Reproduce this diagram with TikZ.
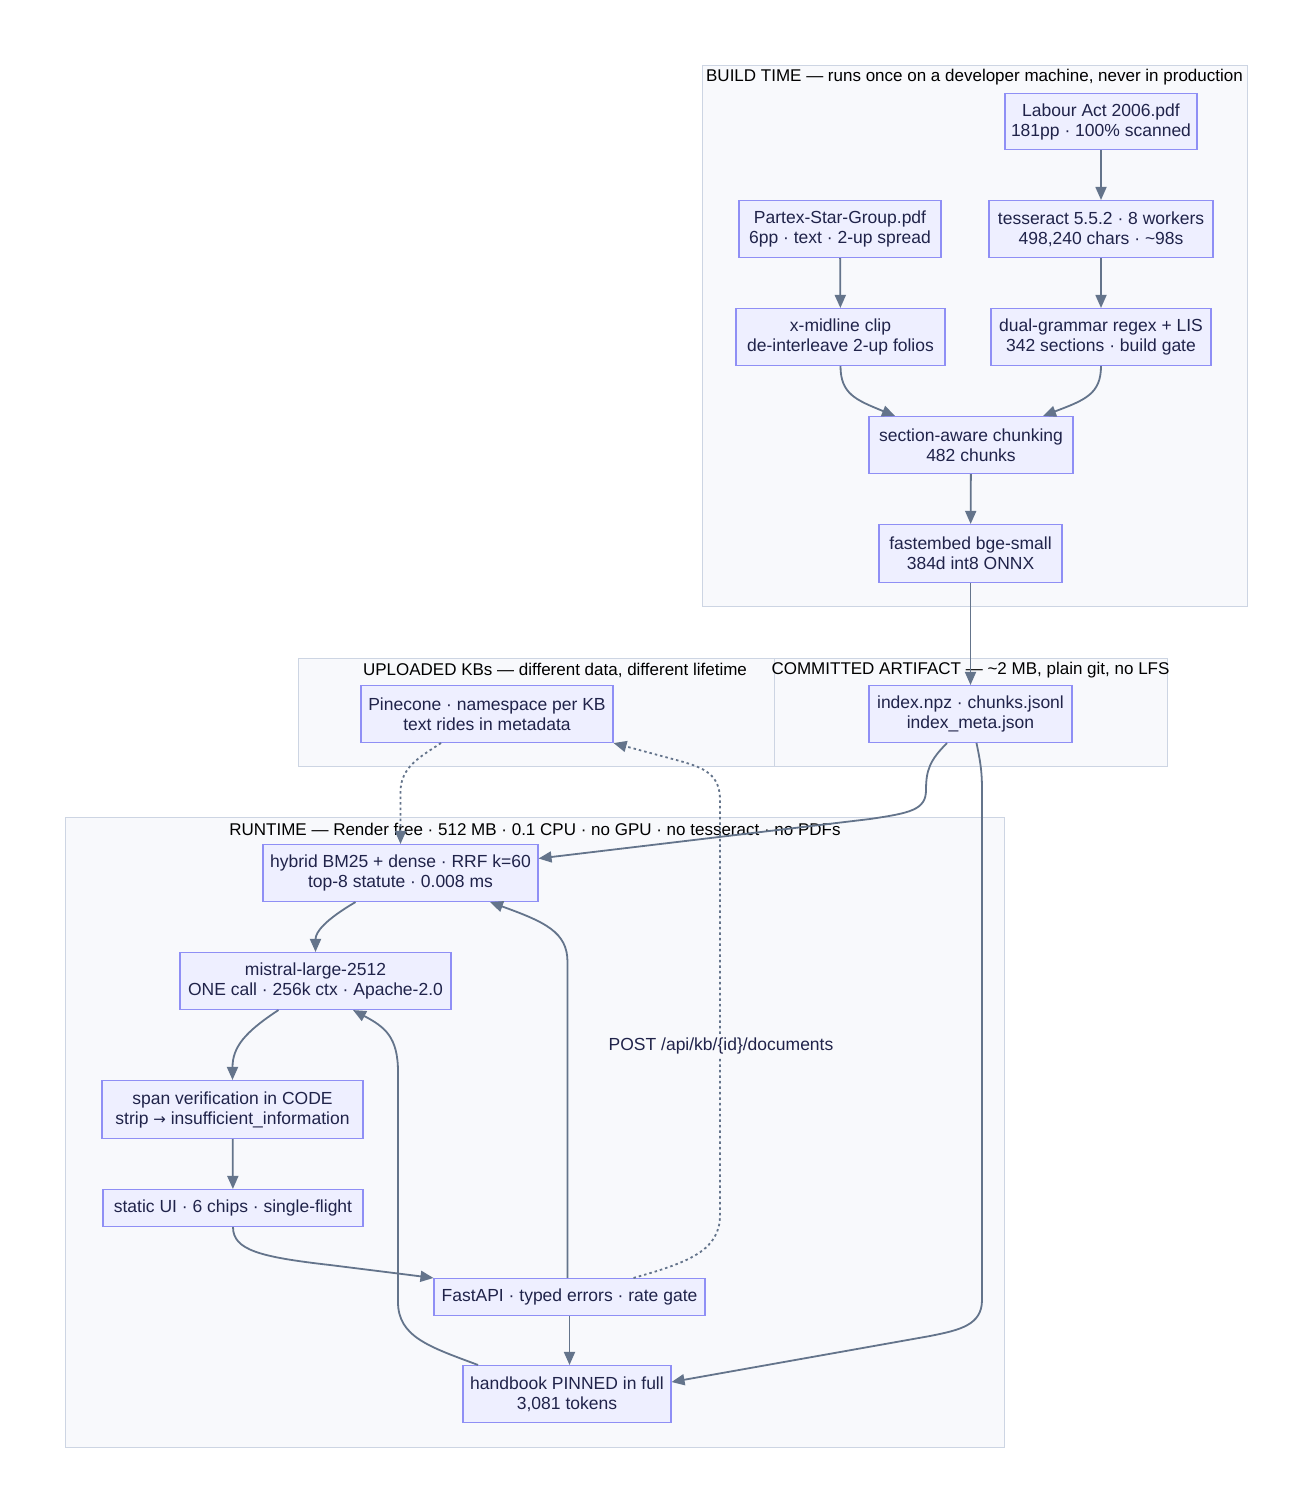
\documentclass[tikz,border=0pt]{standalone}
\usepackage{fontspec}
\setmainfont{Liberation Sans}
\newfontfamily\symfont{DejaVu Sans}
\usetikzlibrary{arrows.meta,calc}
\definecolor{nodef}{HTML}{EEEFFF}
\definecolor{nodeb}{HTML}{8F8FF5}
\definecolor{txt}{HTML}{20234A}
\definecolor{edgec}{HTML}{64748B}
\definecolor{clf}{HTML}{F8F9FC}
\definecolor{clb}{HTML}{CDD5E3}
\tikzset{
  box/.style={draw=nodeb, fill=nodef, line width=1.1pt, align=center, inner sep=0pt, text=txt, font=\fontsize{17.5}{20}\selectfont},
  cluster/.style={draw=clb, fill=clf, line width=1pt, inner sep=0pt},
  clabel/.style={text=black, inner sep=0pt, font=\fontsize{17}{20}\selectfont},
  edge/.style={draw=edgec, line width=1.8pt, -{Triangle[length=13pt,width=11pt]}},
  dotedge/.style={draw=edgec, line width=1.8pt, dash pattern=on 2.5pt off 3pt, -{Triangle[length=13pt,width=11pt]}},
  elabel/.style={fill=clf, text=txt, inner sep=2pt, font=\fontsize{17.5}{20}\selectfont}
}
\begin{document}
\begin{tikzpicture}[x=1pt,y=-1pt]
\useasboundingbox[fill=white] (0,0) rectangle (1308,1512);
% clusters
\node[cluster, minimum width=545pt, minimum height=540pt] (build) at (974.5,336) {};
\node[cluster, minimum width=476pt, minimum height=108pt] (upl) at (536,712) {};
\node[cluster, minimum width=393pt, minimum height=108pt] (comm) at (970.5,712) {};
\node[cluster, minimum width=939pt, minimum height=630pt] (run) at (534.5,1132) {};
\node[clabel] (buildlbl) at (974.5,77) {BUILD TIME — runs once on a developer machine, never in production};
\node[clabel] (upllbl) at (555,670) {UPLOADED KBs — different data, different lifetime};
\node[clabel] (commlbl) at (970.5,670) {COMMITTED ARTIFACT — \textasciitilde2 MB, plain git, no LFS};
\node[clabel] (runlbl) at (535,829) {RUNTIME — Render free · 512 MB · 0.1 CPU · no GPU · no tesseract · no PDFs};
% nodes
\tikzset{every node/.append style={}}
\node[box, minimum width=192pt, minimum height=56pt] (labour) at (1101,121.5) {Labour Act 2006.pdf\\181pp · 100\% scanned};
\node[box, minimum width=202pt, minimum height=57pt] (partex) at (840,229) {Partex-Star-Group.pdf\\6pp · text · 2-up spread};
\node[box, minimum width=224pt, minimum height=57pt] (tess) at (1101,229) {tesseract 5.5.2 · 8 workers\\498,240 chars · \textasciitilde98s};
\node[box, minimum width=209pt, minimum height=57pt] (xmid) at (840.5,337) {x-midline clip\\de-interleave 2-up folios};
\node[box, minimum width=220pt, minimum height=57pt] (dual) at (1101,337) {dual-grammar regex + LIS\\342 sections · build gate};
\node[box, minimum width=204pt, minimum height=57pt] (section) at (971,445) {section-aware chunking\\482 chunks};
\node[box, minimum width=183pt, minimum height=58pt] (fastembed) at (970.5,553.5) {fastembed bge-small\\384d int8 ONNX};
\node[box, minimum width=252pt, minimum height=57pt] (pinecone) at (487,714) {Pinecone · namespace per KB\\text rides in metadata};
\node[box, minimum width=203pt, minimum height=57pt] (index) at (970.5,714) {index.npz · chunks.jsonl\\index\_meta.json};
\node[box, minimum width=275pt, minimum height=57pt] (hybrid) at (400.5,873) {hybrid BM25 + dense · RRF k=60\\top-8 statute · 0.008 ms};
\node[box, minimum width=271pt, minimum height=57pt] (mistral) at (315.5,981) {mistral-large-2512\\ONE call · 256k ctx · Apache-2.0};
\node[box, minimum width=261pt, minimum height=58pt] (span) at (232.5,1109.5) {span verification in CODE\\strip {\symfont\fontsize{15}{20}\selectfont →} insufficient\_information};
\node[box, minimum width=260pt, minimum height=37pt] (static) at (233,1208) {static UI · 6 chips · single-flight};
\node[box, minimum width=271pt, minimum height=37pt] (fastapi) at (569.5,1297) {FastAPI · typed errors · rate gate};
\node[box, minimum width=208pt, minimum height=57pt] (handbook) at (567,1394) {handbook PINNED in full\\3,081 tokens};
% edges: build
\draw[edge] (labour) -- (tess);
\draw[edge] (tess) -- (dual);
\draw[edge] (partex) -- (xmid);
\draw[edge] (xmid.south) .. controls (840.5,394) and (856,400) .. ([xshift=-76pt]section.north);
\draw[edge] (dual.south) .. controls (1101,394) and (1085,400) .. ([xshift=72pt]section.north);
\draw[edge] (section) -- (fastembed);
\draw[edge] (fastembed) -- (index);
% artifact to runtime
\draw[edge] ([xshift=-23.5pt]index.south) .. controls (930,760) and (926,770) .. (926,790)
  .. controls (926,810) and (910,813) .. (870,819) -- ([yshift=14.5pt]hybrid.east);
\draw[edge] ([xshift=6pt]index.south) .. controls (980,760) and (982,770) .. (982,790) -- (982,1300)
  .. controls (982,1325) and (960,1330) .. (930,1336) -- ([yshift=12pt]handbook.east);
% dotted
\draw[dotedge] ([xshift=-46pt]pinecone.south) .. controls (420,757) and (400.5,767) .. (400.5,792) -- (hybrid.north);
\draw[dotedge] ([xshift=64pt]fastapi.north) .. controls (690,1262) and (720,1250) .. (720,1215) -- (720,800)
  .. controls (720,775) and (705,768) .. (680,761) -- (pinecone.south east);
\node[elabel] (postlbl) at (721,1046) {POST /api/kb/\{id\}/documents};
% runtime
\draw[edge] ([xshift=-45pt]hybrid.south) .. controls (325,920) and (315.5,932) .. (mistral.north);
\draw[edge] ([xshift=-37pt]mistral.south) .. controls (245,1032) and (232.5,1047) .. (span.north);
\draw[edge] (span) -- (static);
\draw[edge] (static.south) .. controls (233,1250) and (260,1257) .. (330,1265) -- (fastapi.north west);
\draw[edge] ([xshift=-2pt]fastapi.north) -- (567.5,962) .. controls (567.5,932) and (545,922) .. ([xshift=89.5pt]hybrid.south);
\draw[edge] (fastapi.south) -- (fastapi.south |- handbook.north);
\draw[edge] ([xshift=-89pt]handbook.north) .. controls (430,1347) and (398,1337) .. (398,1302) -- (398,1072)
  .. controls (398,1037) and (385,1027) .. ([xshift=37.5pt]mistral.south);
\end{tikzpicture}
\end{document}
